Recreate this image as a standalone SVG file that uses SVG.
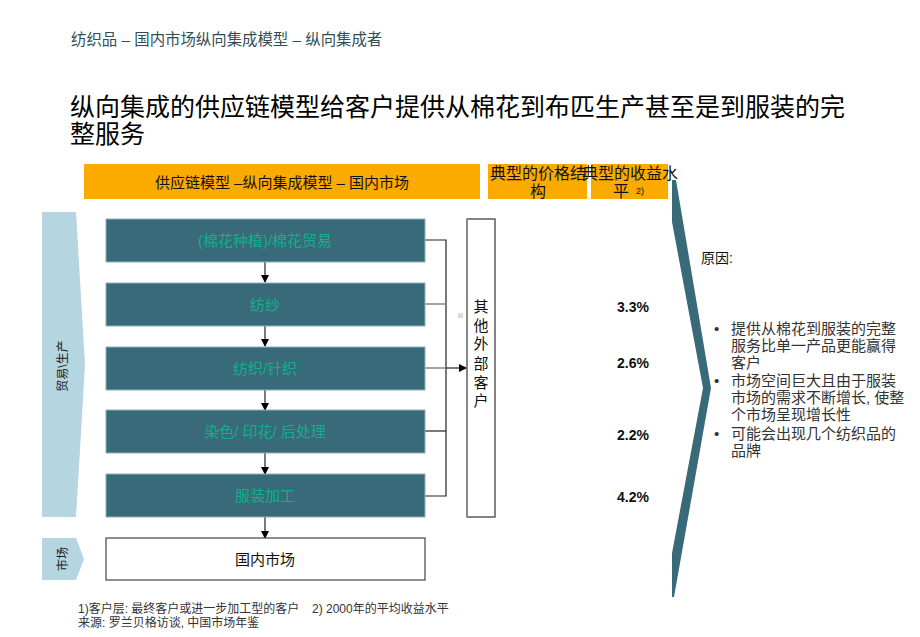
<svg xmlns="http://www.w3.org/2000/svg" width="920" height="637" viewBox="0 0 920 637">
<defs>
<style>
text{font-family:"Liberation Sans","Noto Sans CJK SC",sans-serif;}
.hdr{font-size:15.4px;fill:#2f4f55;}
.title{font-size:25px;fill:#000;}
.orange{fill:#fbaa00;}
.otxt{font-size:15px;fill:#111;}
.step rect{fill:#386a7a;stroke:#8fb0bb;stroke-width:1;}
.step text{font-size:15px;fill:#12b08a;text-anchor:middle;}
.side{fill:#b5d5e1;}
.sidetxt{font-size:12px;fill:#222;text-anchor:middle;}
.pct{font-size:14px;font-weight:bold;fill:#111;text-anchor:middle;}
.body{font-size:15px;fill:#333;}
.foot{font-size:12px;fill:#333;}
.conn{stroke:#222;stroke-width:1.2;fill:none;}
.connG{stroke:#888;stroke-width:1.5;fill:none;}
</style>
<marker id="ah" markerWidth="8" markerHeight="8" refX="7" refY="4" orient="auto" markerUnits="userSpaceOnUse">
<path d="M0,0 L8,4 L0,8 Z" fill="#000"/>
</marker>
</defs>
<rect width="920" height="637" fill="#fff"/>

<text class="hdr" x="71" y="45">纺织品 – 国内市场纵向集成模型 – 纵向集成者</text>
<text class="title" x="70" y="116">纵向集成的供应链模型给客户提供从棉花到布匹生产甚至是到服装的完</text>
<text class="title" x="70" y="143">整服务</text>

<g id="hdr-bar">
<rect class="orange" x="84" y="164" width="396" height="35"/>
<text class="otxt" x="282" y="188" text-anchor="middle">供应链模型 –纵向集成模型 – 国内市场</text>
</g>
<g id="hdr-price">
<rect class="orange" x="488" y="164" width="99" height="35"/>
<text class="otxt" x="538" y="179" text-anchor="middle" style="font-size:16px">典型的价格结</text>
<text class="otxt" x="538" y="197" text-anchor="middle" style="font-size:16px">构</text>
</g>
<g id="hdr-profit">
<rect class="orange" x="591" y="164" width="77" height="35"/>
<text class="otxt" x="630" y="179" text-anchor="middle" style="font-size:16px">典型的收益水</text>
<text class="otxt" x="621" y="197" text-anchor="middle" style="font-size:16px">平</text>
<text class="otxt" x="640" y="194" text-anchor="middle" style="font-size:9px">2)</text>
</g>

<g id="side-production">
<polygon class="side" points="42,212 76,212 85,365 76,517 42,517"/>
<text class="sidetxt" transform="translate(67,366) rotate(-90)">贸易\生产</text>
</g>
<g id="side-market">
<polygon class="side" points="42,538 76,538 84,559 76,580 42,580"/>
<text class="sidetxt" transform="translate(67,559) rotate(-90)">市场</text>
</g>

<g id="connectors">
<line class="conn" x1="265" y1="262" x2="265" y2="282" marker-end="url(#ah)"/>
<line class="conn" x1="265" y1="326" x2="265" y2="346" marker-end="url(#ah)"/>
<line class="conn" x1="265" y1="390" x2="265" y2="410" marker-end="url(#ah)"/>
<line class="conn" x1="265" y1="453" x2="265" y2="474" marker-end="url(#ah)"/>
<line class="conn" x1="265" y1="517" x2="265" y2="538" marker-end="url(#ah)"/>
<polyline class="conn" points="425,240 446,240 446,496 425,496"/>
<line class="connG" x1="425" y1="304" x2="446" y2="304"/>
<line class="connG" x1="425" y1="368" x2="446" y2="368"/>
<line class="conn" x1="425" y1="431" x2="446" y2="431"/>
<line class="conn" x1="446" y1="368" x2="466" y2="368" stroke-width="2" marker-end="url(#ah)"/>
</g>

<g id="step1" class="step"><rect x="106" y="219" width="319" height="43"/><text x="265" y="246">(棉花种植)/棉花贸易</text></g>
<g id="step2" class="step"><rect x="106" y="283" width="319" height="43"/><text x="265" y="310">纺纱</text></g>
<g id="step3" class="step"><rect x="106" y="347" width="319" height="43"/><text x="265" y="374">纺织/针织</text></g>
<g id="step4" class="step"><rect x="106" y="410" width="319" height="43"/><text x="265" y="437">染色/ 印花/ 后处理</text></g>
<g id="step5" class="step"><rect x="106" y="474" width="319" height="43"/><text x="265" y="501">服装加工</text></g>

<g id="market">
<rect x="106" y="538" width="319" height="42" fill="#fff" stroke="#444" stroke-width="1.2"/>
<text x="265" y="565" text-anchor="middle" style="font-size:15px;fill:#111">国内市场</text>
</g>

<g id="external">
<rect x="467" y="219" width="28" height="298" fill="#fff" stroke="#333" stroke-width="1.2"/>
<line x1="467" y1="219" x2="467" y2="517" stroke="#888" stroke-width="2"/>
<g style="font-size:15px;fill:#111" text-anchor="middle">
<text x="481" y="312">其</text>
<text x="481" y="331">他</text>
<text x="481" y="349">外</text>
<text x="481" y="369">部</text>
<text x="481" y="388">客</text>
<text x="481" y="406">户</text>
</g>
</g>
<rect x="458" y="313" width="5" height="5" fill="#dcdcdc"/>

<g id="pcts">
<text class="pct" x="633" y="312">3.3%</text>
<text class="pct" x="633" y="368">2.6%</text>
<text class="pct" x="633" y="440">2.2%</text>
<text class="pct" x="633" y="502">4.2%</text>
</g>

<polygon id="brace" points="672,180 676,180 711,388 674,597 672,597 672,553 703,388 672,222" fill="#386a7a"/>

<g id="reasons">
<text class="body" x="701" y="263" style="font-size:14px;fill:#111">原因:</text>
<g class="body">
<text x="714" y="334">•</text>
<text x="731" y="334">提供从棉花到服装的完整</text>
<text x="731" y="351">服务比单一产品更能赢得</text>
<text x="731" y="368">客户</text>
<text x="714" y="386">•</text>
<text x="731" y="386">市场空间巨大且由于服装</text>
<text x="731" y="403">市场的需求不断增长, 使整</text>
<text x="731" y="420">个市场呈现增长性</text>
<text x="714" y="439">•</text>
<text x="731" y="439">可能会出现几个纺织品的</text>
<text x="731" y="456">品牌</text>
</g>
</g>

<text class="foot" x="78" y="613">1)客户层: 最终客户或进一步加工型的客户</text>
<text class="foot" x="312" y="613">2) 2000年的平均收益水平</text>
<text class="foot" x="78" y="627">来源: 罗兰贝格访谈, 中国市场年鉴</text>
</svg>
